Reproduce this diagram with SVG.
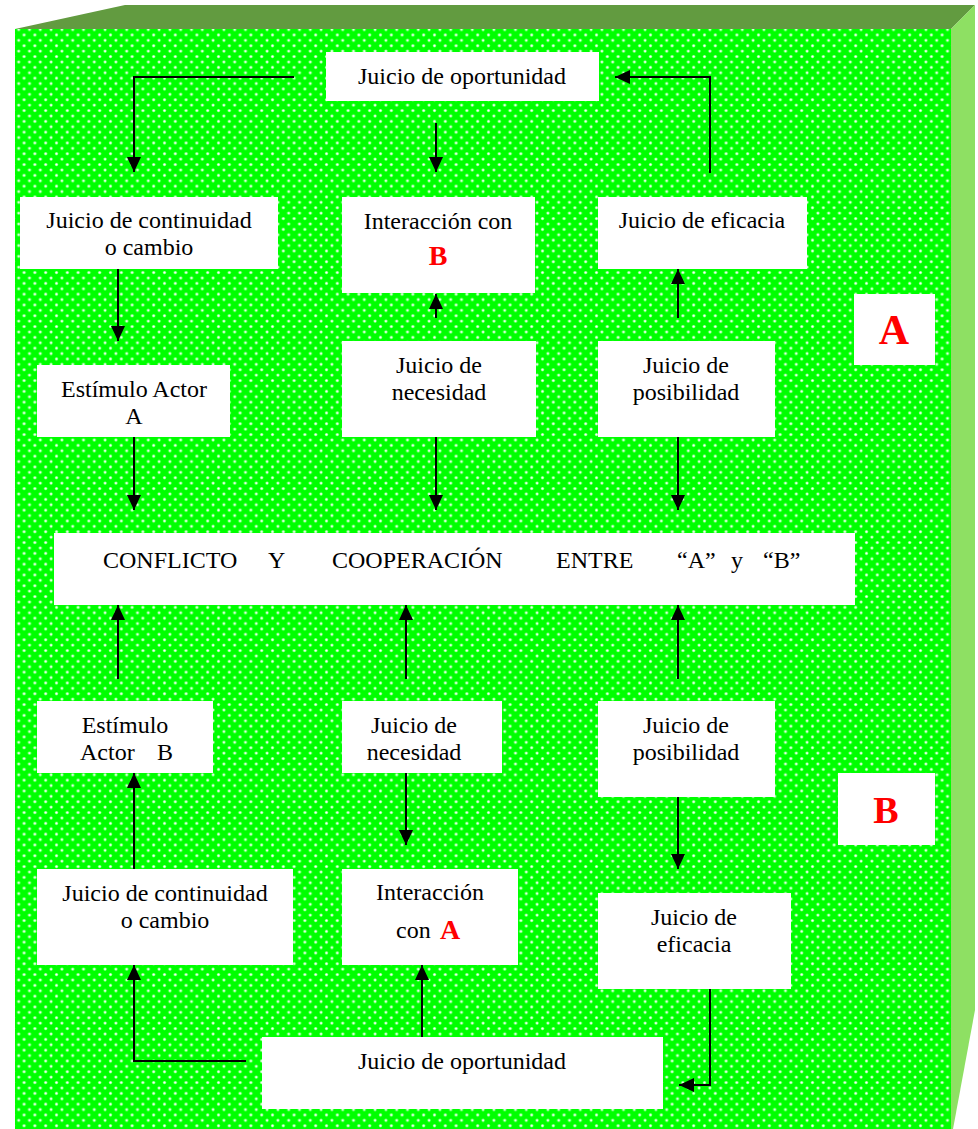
<svg xmlns="http://www.w3.org/2000/svg" width="978" height="1129" viewBox="0 0 978 1129">
<defs>
<pattern id="dots" width="10.8" height="10.8" patternUnits="userSpaceOnUse">
<rect width="10.8" height="10.8" fill="#00FF00"/>
<circle cx="2.5" cy="2.5" r="1.6" fill="#a8ffa8"/>
<circle cx="2.5" cy="2.5" r="0.9" fill="#ffffff"/>
<circle cx="7.9" cy="7.9" r="1.6" fill="#a8ffa8"/>
<circle cx="7.9" cy="7.9" r="0.9" fill="#ffffff"/>
</pattern>
<marker id="ah" viewBox="0 0 15 14" refX="15" refY="7" markerWidth="15" markerHeight="14" markerUnits="userSpaceOnUse" orient="auto">
<path d="M0,0 L15,7 L0,14 z" fill="#000"/>
</marker>
<style>
.box{fill:#fff}
.t{font-family:"Liberation Serif","Times New Roman",serif;font-size:24px;fill:#000}
.c{text-anchor:middle}
.big{font-family:"Liberation Serif","Times New Roman",serif;font-weight:bold;fill:#f00;text-anchor:middle}
.ln{fill:none;stroke:#000;stroke-width:2;marker-end:url(#ah)}
</style>
</defs>
<rect width="978" height="1129" fill="#fff"/>
<g id="cube">
<polygon points="15,29 125,5 975,5 951,29" fill="#629B40"/>
<polygon points="951,29 975,5 975,1010 951,1140" fill="#8EE063"/>
<rect x="15" y="29" width="936" height="1100" fill="url(#dots)"/>
</g>
<g id="connectors">
<path class="ln" d="M294,77 H134 V172"/>
<path class="ln" d="M436,123 V172"/>
<path class="ln" d="M710,173 V77 H615"/>
<path class="ln" d="M118,269 V341"/>
<path class="ln" d="M436,318 V294"/>
<path class="ln" d="M678,318 V269"/>
<path class="ln" d="M134,437 V510"/>
<path class="ln" d="M436,437 V510"/>
<path class="ln" d="M678,437 V510"/>
<path class="ln" d="M118,679 V605"/>
<path class="ln" d="M406,679 V605"/>
<path class="ln" d="M678,679 V605"/>
<path class="ln" d="M134,869 V773"/>
<path class="ln" d="M406,773 V845"/>
<path class="ln" d="M678,797 V869"/>
<path class="ln" d="M246,1061 H134 V965"/>
<path class="ln" d="M422,1037 V965"/>
<path class="ln" d="M710,989 V1085 H679"/>
</g>
<g id="n1"><rect class="box" x="326" y="52" width="273" height="49"/><text class="t c" x="462" y="84">Juicio de oportunidad</text></g>
<g id="n2"><rect class="box" x="20" y="197" width="258" height="72"/><text class="t c" x="149" y="228">Juicio de continuidad</text><text class="t c" x="149" y="255">o cambio</text></g>
<g id="n3"><rect class="box" x="342" y="197" width="193" height="96"/><text class="t c" x="438" y="229">Interacción con</text><text class="big" x="438" y="265" font-size="28">B</text></g>
<g id="n4"><rect class="box" x="598" y="197" width="209" height="72"/><text class="t c" x="702" y="228">Juicio de eficacia</text></g>
<g id="n5"><rect class="box" x="854" y="294" width="81" height="71"/><text class="big" x="894" y="344" font-size="42">A</text></g>
<g id="n6"><rect class="box" x="37" y="365" width="193" height="72"/><text class="t c" x="134" y="397">Estímulo Actor</text><text class="t c" x="134" y="424">A</text></g>
<g id="n7"><rect class="box" x="342" y="341" width="194" height="96"/><text class="t c" x="439" y="373">Juicio de</text><text class="t c" x="439" y="400">necesidad</text></g>
<g id="n8"><rect class="box" x="598" y="341" width="177" height="96"/><text class="t c" x="686" y="373">Juicio de</text><text class="t c" x="686" y="400">posibilidad</text></g>
<g id="n9"><rect class="box" x="54" y="533" width="801" height="72"/>
<text class="t" y="568"><tspan x="103">CONFLICTO</tspan><tspan x="268">Y</tspan><tspan x="332">COOPERACIÓN</tspan><tspan x="556">ENTRE</tspan><tspan x="677">“A”</tspan><tspan x="731">y</tspan><tspan x="763">“B”</tspan></text></g>
<g id="n10"><rect class="box" x="37" y="701" width="176" height="72"/><text class="t c" x="125" y="733">Estímulo</text><text class="t" y="760"><tspan x="80">Actor</tspan><tspan x="157">B</tspan></text></g>
<g id="n11"><rect class="box" x="342" y="701" width="160" height="72"/><text class="t c" x="414" y="733">Juicio de</text><text class="t c" x="414" y="760">necesidad</text></g>
<g id="n12"><rect class="box" x="598" y="701" width="177" height="96"/><text class="t c" x="686" y="733">Juicio de</text><text class="t c" x="686" y="760">posibilidad</text></g>
<g id="n13"><rect class="box" x="838" y="773" width="97" height="72"/><text class="big" x="886" y="823" font-size="38">B</text></g>
<g id="n14"><rect class="box" x="37" y="869" width="256" height="96"/><text class="t c" x="165" y="901">Juicio de continuidad</text><text class="t c" x="165" y="928">o cambio</text></g>
<g id="n15"><rect class="box" x="342" y="869" width="176" height="96"/><text class="t c" x="430" y="900">Interacción</text><text class="t" x="396" y="938">con</text><text class="big" x="450" y="939" font-size="28">A</text></g>
<g id="n16"><rect class="box" x="598" y="893" width="193" height="96"/><text class="t c" x="694" y="925">Juicio de</text><text class="t c" x="694" y="952">eficacia</text></g>
<g id="n17"><rect class="box" x="262" y="1037" width="401" height="72"/><text class="t c" x="462" y="1069">Juicio de oportunidad</text></g>
</svg>
